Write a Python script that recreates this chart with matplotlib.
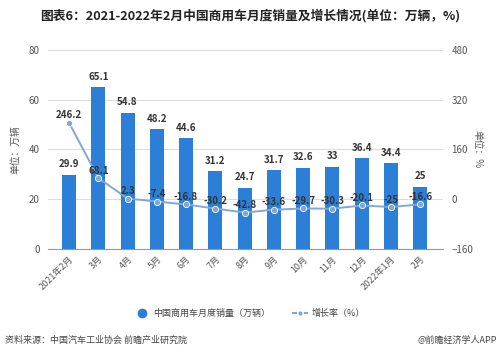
import matplotlib
matplotlib.use("Agg")
import matplotlib.pyplot as plt
import numpy as np

plt.rcParams['font.family'] = ['Noto Sans CJK SC', 'DejaVu Sans']

months = ["2021年2月", "3月", "4月", "5月", "6月", "7月", "8月", "9月", "10月", "11月", "12月", "2022年1月", "2月"]
sales = [29.9, 65.1, 54.8, 48.2, 44.6, 31.2, 24.7, 31.7, 32.6, 33, 36.4, 34.4, 25]
growth = [246.2, 68.1, 2.3, -7.4, -16.8, -30.2, -42.8, -33.6, -29.7, -30.3, -20.1, -25, -16.6]
sales_lbl = ["29.9", "65.1", "54.8", "48.2", "44.6", "31.2", "24.7", "31.7", "32.6", "33", "36.4", "34.4", "25"]
growth_lbl = ["246.2", "68.1", "2.3", "-7.4", "-16.8", "-30.2", "-42.8", "-33.6", "-29.7", "-30.3", "-20.1", "-25", "-16.6"]

bar_c = "#2b7fd6"
line_c = "#7fa8da"
txt_c = "#333333"
grid_c = "#dddddd"

fig = plt.figure(figsize=(5, 3.56), dpi=100)
ax = fig.add_axes([0.096, 0.3006, 0.79, 0.559])
ax2 = ax.twinx()

x = np.arange(len(months))
ax.bar(x, sales, width=0.48, color=bar_c, zorder=2)
ax.set_ylim(0, 80)
ax.set_yticks([0, 20, 40, 60, 80])
ax.set_xlim(-0.72, 12.78)
ax.set_xticks(x)
ax.set_xticklabels(months, rotation=45, ha='right', rotation_mode='anchor', fontsize=6.5, color="#555555")
ax.tick_params(axis='x', length=0, pad=4)
ax.tick_params(axis='y', length=0, labelsize=7, colors="#555555", pad=6)
ax.grid(axis='y', color=grid_c, linewidth=0.8, zorder=0)
ax.set_axisbelow(True)
for s in ["top", "right", "left"]:
    ax.spines[s].set_visible(False)
ax.spines["bottom"].set_color("#999999")
ax.spines["bottom"].set_linewidth(0.8)
for s in ["top", "right", "left", "bottom"]:
    ax2.spines[s].set_visible(False)

for xi, v, l in zip(x, sales, sales_lbl):
    ax.text(xi, v + 2.2, l, ha='center', va='bottom', fontsize=7, fontweight='bold', color=txt_c, zorder=5)

ax2.plot(x, growth, color=line_c, linewidth=1.4, marker='o', markersize=4.5,
         markerfacecolor=line_c, markeredgecolor="white", markeredgewidth=0.6, zorder=4)
ax2.set_ylim(-160, 480)
ax2.set_yticks([-160, 0, 160, 320, 480])
ax2.tick_params(axis='y', length=0, labelsize=7, colors="#555555", pad=6)
for xi, v, l in zip(x, growth, growth_lbl):
    ax2.text(xi, v + 8, l, ha='center', va='bottom', fontsize=7, fontweight='bold', color=txt_c, zorder=6)

ax.set_ylabel("单位：万辆", fontsize=7, color="#555555")
ax.yaxis.set_label_coords(-0.07, 0.5)
ax2.set_ylabel("单位：%", fontsize=7, color="#555555", rotation=-90, va='center', ha='center')
ax2.yaxis.set_label_coords(1.086, 0.5)

fig.text(0.5, 0.957, "图表6：2021-2022年2月中国商用车月度销量及增长情况(单位：万辆，%)",
         ha='center', va='center', fontsize=9.2, fontweight='bold', color="#222222")

from matplotlib.lines import Line2D
h1 = Line2D([0], [0], marker='o', color='none', markerfacecolor=bar_c, markeredgecolor=bar_c, markersize=6)
h2 = Line2D([0], [0], marker='o', color=line_c, markerfacecolor=line_c, markeredgecolor="white", markersize=4, linewidth=1.5)
fig.legend([h1, h2], ["中国商用车月度销量（万辆）", "增长率（%）"], loc='center', bbox_to_anchor=(0.5, 0.12),
           ncol=2, frameon=False, fontsize=6.5, handlelength=1.5, columnspacing=2.5, handletextpad=0.5,
           labelcolor="#444444")

fig.text(0.01, 0.045, "资料来源：中国汽车工业协会 前瞻产业研究院", ha='left', va='center', fontsize=6.5, color="#444444")
fig.text(0.995, 0.045, "@前瞻经济学人APP", ha='right', va='center', fontsize=6.5, color="#444444")

fig.savefig("out.png", dpi=100)
